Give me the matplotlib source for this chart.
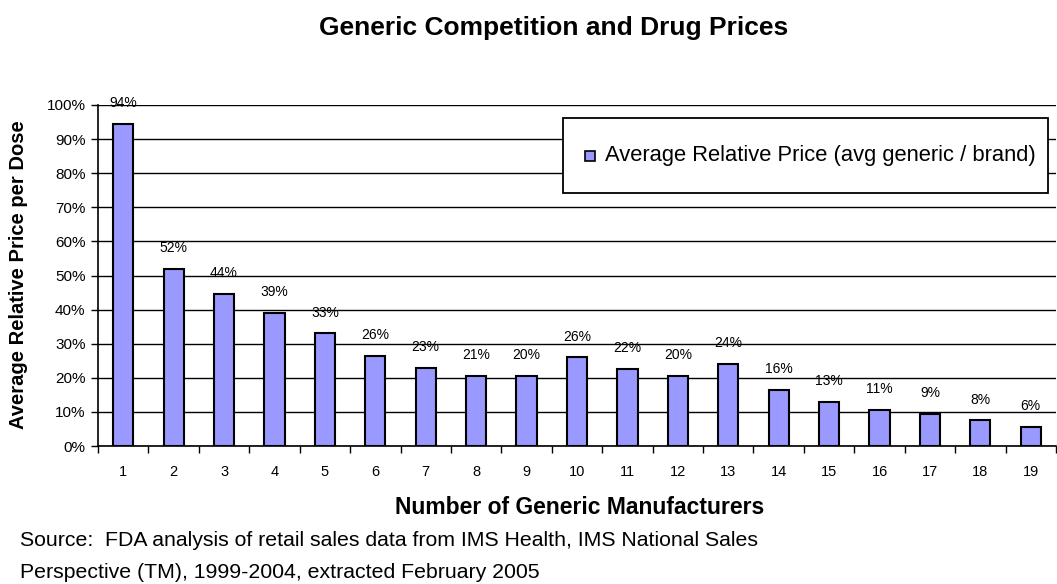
import numpy as np
import matplotlib.pyplot as plt
from matplotlib.patches import Rectangle
from matplotlib.ticker import FixedLocator, NullFormatter

plt.rcParams['font.family'] = ['Liberation Sans', 'DejaVu Sans']

# Data
manufacturers = [str(i) for i in range(1, 20)]
price_labels = [94, 52, 44, 39, 33, 26, 23, 21, 20, 26, 22, 20, 24, 16, 13, 11, 9, 8, 6]
price_values = [0.945, 0.52, 0.445, 0.39, 0.33, 0.265, 0.23, 0.205, 0.205, 0.26,
                0.225, 0.205, 0.24, 0.165, 0.13, 0.105, 0.095, 0.075, 0.055]
legend_label = 'Average Relative Price (avg generic / brand)'

W, H = 1057, 584
fig = plt.figure(figsize=(W / 100, H / 100), dpi=100)
ax = fig.add_axes([98 / W, 1 - 446 / H, 958 / W, 341 / H])

x = np.arange(len(manufacturers))
ax.bar(x, price_values, width=0.4, color='#9999FF', edgecolor='black',
       linewidth=1.5, zorder=3)

# value labels above bars
for xi, v, lab in zip(x, price_values, price_labels):
    ax.annotate(f'{lab}%', (xi, v), xytext=(0, 15), textcoords='offset points',
                ha='center', va='center', fontsize=10, zorder=4)

ax.set_xlim(-0.5, len(manufacturers) - 0.5)
ax.set_ylim(0, 1.0)
yt = np.arange(0, 1.01, 0.1)
ax.set_yticks(yt)
ax.set_yticklabels([f'{int(round(t * 100))}%' for t in yt], fontsize=11)
ax.yaxis.grid(True, color='black', linewidth=1, zorder=0)
ax.tick_params(axis='y', direction='out', length=5, width=1, pad=4)

# ticks between categories, labels at centers
ax.xaxis.set_major_locator(FixedLocator(np.arange(-0.5, len(manufacturers), 1.0)))
ax.xaxis.set_major_formatter(NullFormatter())
ax.xaxis.set_minor_locator(FixedLocator(x))
ax.set_xticklabels(manufacturers, minor=True, fontsize=10.5)
ax.tick_params(axis='x', which='major', direction='out', length=5, width=1)
ax.tick_params(axis='x', which='minor', length=0, pad=14)

for side in ['top', 'right']:
    ax.spines[side].set_visible(False)
ax.spines['left'].set_linewidth(1.2)
ax.spines['bottom'].set_linewidth(1.2)

# legend box (drawn by hand to match the tall Excel-style frame)
fig.patches.append(Rectangle((563 / W, 1 - 193 / H), 485 / W, 75 / H,
                             transform=fig.transFigure, facecolor='white',
                             edgecolor='black', linewidth=1.3, zorder=5))
fig.patches.append(Rectangle((585 / W, 1 - 161 / H), 10 / W, 10 / H,
                             transform=fig.transFigure, facecolor='#9999FF',
                             edgecolor='black', linewidth=1.2, zorder=6))
fig.text(605 / W, 1 - 155 / H, legend_label, ha='left', va='center',
         fontsize=15.8, zorder=7)

fig.text(554 / W, 1 - 28 / H, 'Generic Competition and Drug Prices', ha='center',
         va='center', fontsize=19, fontweight='bold')
fig.text(580 / W, 1 - 508 / H, 'Number of Generic Manufacturers', ha='center',
         va='center', fontsize=16.5, fontweight='bold')
fig.text(19 / W, 1 - 275 / H, 'Average Relative Price per Dose', ha='center',
         va='center', rotation=90, fontsize=14.5, fontweight='bold')
fig.text(20 / W, 1 - 541 / H,
         'Source:  FDA analysis of retail sales data from IMS Health, IMS National Sales',
         ha='left', va='center', fontsize=15.3)
fig.text(20 / W, 1 - 573 / H, 'Perspective (TM), 1999-2004, extracted February 2005',
         ha='left', va='center', fontsize=15.3)

fig.savefig('out.png', dpi=100)
